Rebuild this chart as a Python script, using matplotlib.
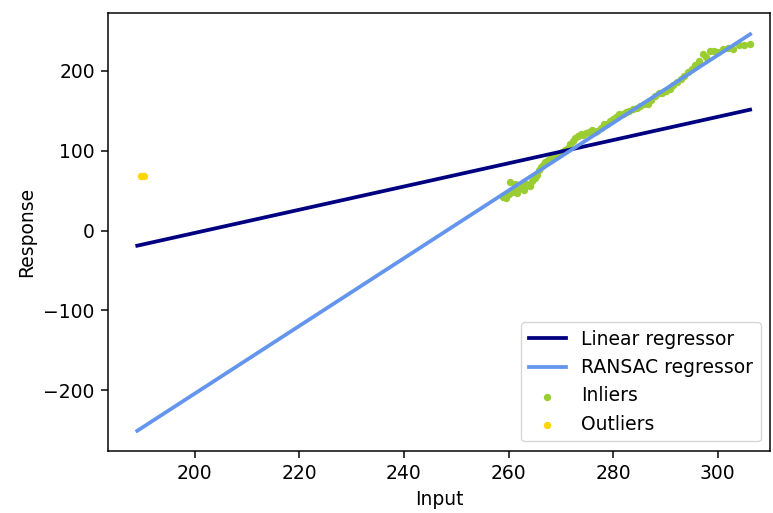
import matplotlib
matplotlib.use("Agg")
import matplotlib.pyplot as plt
import numpy as np

# Fitted lines (endpoints)
line_x = [189.0, 306.2]
linear_y = [-19.0, 151.5]
ransac_y = [-251.0, 246.0]

# Inliers
inlier_x = [259.0, 259.3, 259.6, 260.0, 260.2, 260.6, 261.0, 261.3, 261.7, 262.0,
            262.5, 262.9, 263.3, 263.7, 264.1, 264.5, 265.0, 265.4, 265.8, 266.2,
            266.6, 267.0, 267.5, 268.0, 268.4, 268.9, 269.3, 269.8, 270.3, 270.8,
            271.3, 271.8, 272.3, 272.8, 273.3, 273.8, 274.3, 274.8, 275.3, 275.9,
            276.5, 277.0, 277.6, 278.2, 278.8, 279.4, 280.0, 280.6, 281.2, 281.8,
            282.5, 283.1, 283.8, 284.5, 285.2, 285.9, 286.6, 287.3, 288.0, 288.7,
            289.4, 290.1, 290.8, 291.5, 292.2, 292.9, 293.6, 294.3, 295.0, 295.7,
            296.4, 297.1, 297.8, 298.5, 299.3, 300.1, 301.0, 302.0, 303.0, 304.0,
            305.0, 306.2]
inlier_y = [42, 44, 41, 46, 61, 48, 50, 58, 47, 52,
            55, 51, 58, 57, 56, 62, 66, 70, 76, 80,
            82, 86, 88, 90, 92, 94, 95, 96, 98, 101,
            104, 108, 112, 116, 118, 121, 120, 122, 124, 126,
            123, 125, 129, 134, 133, 137, 140, 142, 146, 146,
            149, 150, 152, 153, 156, 158, 158, 163, 168, 173,
            172, 175, 178, 182, 186, 190, 194, 199, 203, 207,
            212, 221, 218, 225, 225, 224, 227, 229, 228, 232,
            233, 234]

# Outliers
outlier_x = [189.7, 190.3]
outlier_y = [68, 68]

# the reference looks like a ~135 dpi render, so scale sizes up
k = 1.35
fs = 10 * k

fig = plt.figure(figsize=(7.73, 5.13), dpi=100)
ax = fig.add_axes([0.1397, 0.1214, 0.8564, 0.8538])

ax.scatter(inlier_x, inlier_y, color="yellowgreen", s=28, linewidths=0,
           label="Inliers", zorder=2)
ax.scatter(outlier_x, outlier_y, color="gold", s=28, linewidths=0,
           label="Outliers", zorder=2)
ax.plot(line_x, linear_y, color="navy", lw=2 * k, label="Linear regressor", zorder=3)
ax.plot(line_x, ransac_y, color="cornflowerblue", lw=2 * k, label="RANSAC regressor",
        zorder=3)

ax.set_xlim(183.4, 310.0)
ax.set_ylim(-276, 273)
ax.set_xticks([200, 220, 240, 260, 280, 300])
ax.set_yticks([-200, -100, 0, 100, 200])
ax.tick_params(labelsize=fs, length=3.5 * k, width=0.8 * k, pad=3.5 * k)
for sp in ax.spines.values():
    sp.set_linewidth(0.8 * k)
ax.set_xlabel("Input", fontsize=fs, labelpad=4 * k)
ax.set_ylabel("Response", fontsize=fs, labelpad=4 * k)

handles, labels = ax.get_legend_handles_labels()
order = [2, 3, 0, 1]
ax.legend([handles[i] for i in order], [labels[i] for i in order],
          loc="lower right", fontsize=fs)

fig.savefig("out.png", dpi=100)
